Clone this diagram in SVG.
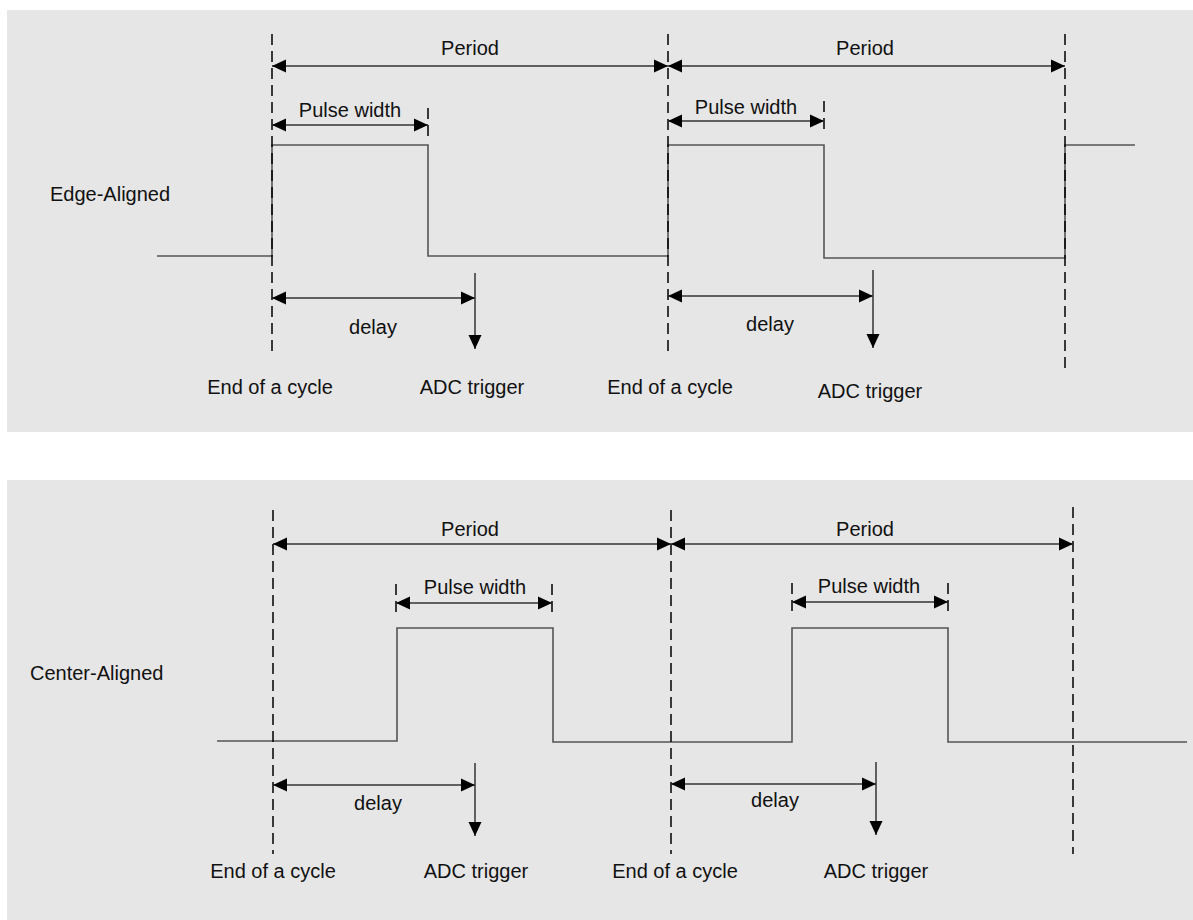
<svg xmlns="http://www.w3.org/2000/svg" width="1193" height="920" viewBox="0 0 1193 920">
<style>
.bg{fill:#e6e6e6}
.dash{stroke:#000;stroke-width:1.5;stroke-dasharray:11 6;fill:none}
.sig{stroke:#555;stroke-width:1.6;fill:none}
.arr{stroke:#333;stroke-width:1.5;fill:none}
.t{font-family:"Liberation Sans",Arial,sans-serif;font-size:20px;fill:#111}
.m{text-anchor:middle}
</style>
<defs>
<marker id="ah" markerUnits="userSpaceOnUse" markerWidth="14" markerHeight="14" refX="14" refY="7" orient="auto-start-reverse" viewBox="0 0 14 14">
<path d="M0,0.5 L14,7 L0,13.5 z" fill="#000"/>
</marker>
</defs>
<rect x="0" y="0" width="1193" height="920" fill="#fff"/>
<g id="panel-top">
<rect class="bg" x="7" y="10" width="1186" height="422"/>
<g id="top-label"><text class="t" x="50" y="201">Edge-Aligned</text></g>
<g id="top-signal"><path class="sig" d="M157,256 H272 V145 H428 V256 H668 V145 H824 V258 H1065 V145 H1135"/></g>
<g id="top-cycle1">
<text class="t m" x="470" y="55">Period</text>
<text class="t m" x="350" y="117">Pulse width</text>
<text class="t m" x="373" y="334">delay</text>
<text class="t m" x="270" y="394">End of a cycle</text>
<text class="t m" x="472" y="394">ADC trigger</text>
</g>
<g id="top-cycle2">
<text class="t m" x="865" y="55">Period</text>
<text class="t m" x="746" y="114">Pulse width</text>
<text class="t m" x="770" y="331">delay</text>
<text class="t m" x="670" y="394">End of a cycle</text>
<text class="t m" x="870" y="398">ADC trigger</text>
</g>
<g id="top-connectors">
<line class="dash" x1="272" y1="34" x2="272" y2="357"/>
<line class="dash" x1="668" y1="34" x2="668" y2="357"/>
<line class="dash" x1="1065" y1="34" x2="1065" y2="373"/>
<line class="dash" x1="428" y1="108" x2="428" y2="140"/>
<line class="dash" x1="824" y1="101" x2="824" y2="133"/>
<line class="arr" x1="272" y1="66" x2="668" y2="66" marker-start="url(#ah)" marker-end="url(#ah)"/>
<line class="arr" x1="668" y1="66" x2="1065" y2="66" marker-start="url(#ah)" marker-end="url(#ah)"/>
<line class="arr" x1="272" y1="125" x2="428" y2="125" marker-start="url(#ah)" marker-end="url(#ah)"/>
<line class="arr" x1="668" y1="121" x2="824" y2="121" marker-start="url(#ah)" marker-end="url(#ah)"/>
<line class="arr" x1="272" y1="298" x2="475" y2="298" marker-start="url(#ah)" marker-end="url(#ah)"/>
<line class="arr" x1="475" y1="273" x2="475" y2="349" marker-end="url(#ah)"/>
<line class="arr" x1="668" y1="296" x2="873" y2="296" marker-start="url(#ah)" marker-end="url(#ah)"/>
<line class="arr" x1="873" y1="270" x2="873" y2="348" marker-end="url(#ah)"/>
</g>
</g>
<g id="panel-bottom">
<rect class="bg" x="7" y="480" width="1186" height="440"/>
<g id="bottom-label"><text class="t" x="30" y="680">Center-Aligned</text></g>
<g id="bottom-signal"><path class="sig" d="M217,741 H397 V628 H553 V742 H792 V628 H948 V742 H1187"/></g>
<g id="bottom-cycle1">
<text class="t m" x="470" y="536">Period</text>
<text class="t m" x="475" y="594">Pulse width</text>
<text class="t m" x="378" y="810">delay</text>
<text class="t m" x="273" y="878">End of a cycle</text>
<text class="t m" x="476" y="878">ADC trigger</text>
</g>
<g id="bottom-cycle2">
<text class="t m" x="865" y="536">Period</text>
<text class="t m" x="869" y="593">Pulse width</text>
<text class="t m" x="775" y="807">delay</text>
<text class="t m" x="675" y="878">End of a cycle</text>
<text class="t m" x="876" y="878">ADC trigger</text>
</g>
<g id="bottom-connectors">
<line class="dash" x1="273" y1="510" x2="273" y2="854"/>
<line class="dash" x1="671" y1="510" x2="671" y2="854"/>
<line class="dash" x1="1073" y1="507" x2="1073" y2="854"/>
<line class="dash" x1="396" y1="584" x2="396" y2="616"/>
<line class="dash" x1="552" y1="584" x2="552" y2="616"/>
<line class="dash" x1="792" y1="583" x2="792" y2="615"/>
<line class="dash" x1="948" y1="583" x2="948" y2="615"/>
<line class="arr" x1="273" y1="544" x2="671" y2="544" marker-start="url(#ah)" marker-end="url(#ah)"/>
<line class="arr" x1="671" y1="544" x2="1073" y2="544" marker-start="url(#ah)" marker-end="url(#ah)"/>
<line class="arr" x1="396" y1="603" x2="552" y2="603" marker-start="url(#ah)" marker-end="url(#ah)"/>
<line class="arr" x1="792" y1="602" x2="948" y2="602" marker-start="url(#ah)" marker-end="url(#ah)"/>
<line class="arr" x1="273" y1="785" x2="475" y2="785" marker-start="url(#ah)" marker-end="url(#ah)"/>
<line class="arr" x1="475" y1="763" x2="475" y2="836" marker-end="url(#ah)"/>
<line class="arr" x1="671" y1="784" x2="876" y2="784" marker-start="url(#ah)" marker-end="url(#ah)"/>
<line class="arr" x1="876" y1="762" x2="876" y2="835" marker-end="url(#ah)"/>
</g>
</g>
</svg>
